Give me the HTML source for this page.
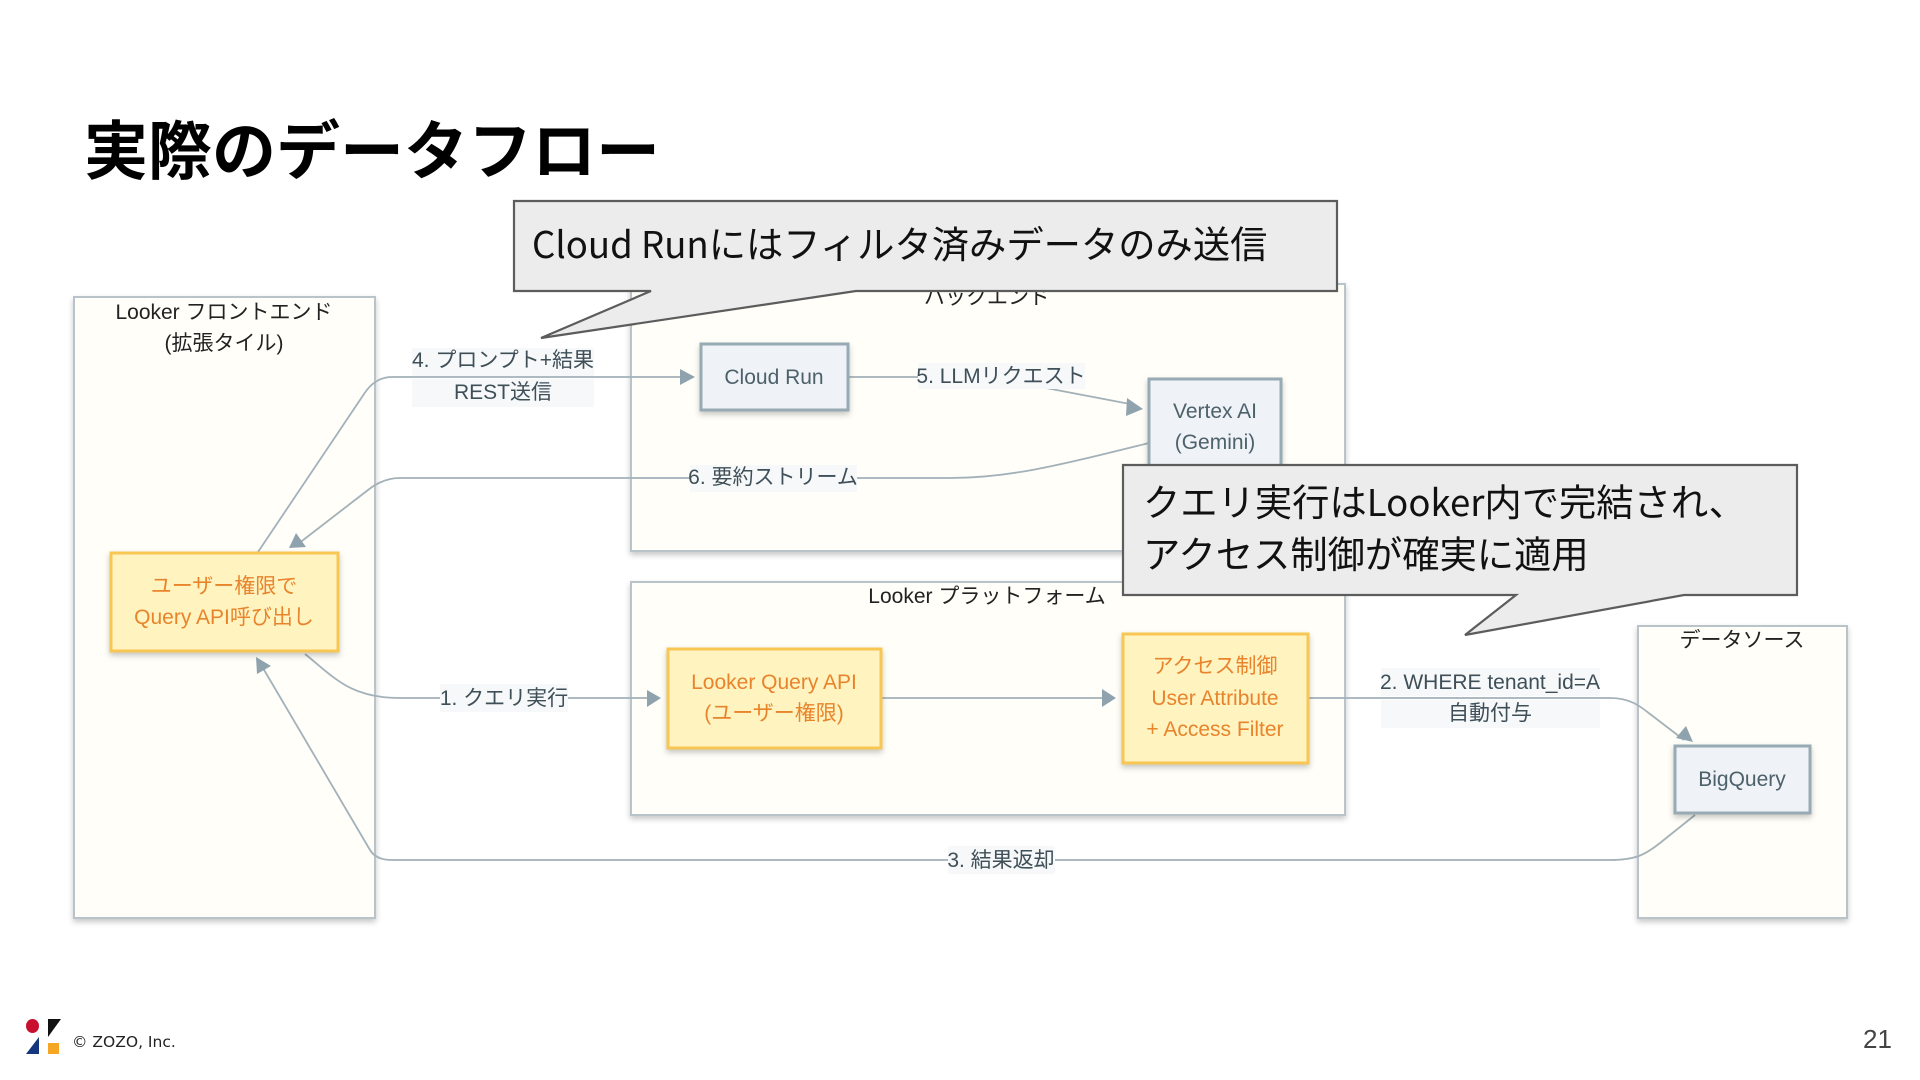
<!DOCTYPE html>
<html lang="ja">
<head>
<meta charset="utf-8">
<title>実際のデータフロー</title>
<style>
html,body{margin:0;padding:0;background:#fff;width:1920px;height:1080px;overflow:hidden}
svg{display:block;filter:blur(.35px)}
text{font-family:"Liberation Sans","Noto Sans CJK JP",sans-serif}
.frame{fill:#fffef8;stroke:#b8c4ca;stroke-width:2}
.ftitle{font-size:21px;fill:#222;text-anchor:middle}
.edge{fill:none;stroke:#a3b1b9;stroke-width:1.8}
.arrow{fill:#8fa3af}
.lbg{fill:#f6f8f9}
.ltxt{font-size:21px;fill:#3f4f58;text-anchor:middle}
.yn{fill:#fff3c0;stroke:#f8c653;stroke-width:3}
.gn{fill:#eff2f6;stroke:#98abb5;stroke-width:3}
.yt{font-size:21px;fill:#e8842c;text-anchor:middle}
.gt{font-size:21px;fill:#4d616b;text-anchor:middle}
.call{fill:#ececec;stroke:#5c5c5c;stroke-width:2.2;stroke-linejoin:miter}
.ct{font-family:"Noto Sans CJK JP",sans-serif;font-size:37.3px;fill:#111}
</style>
</head>
<body>
<svg width="1920" height="1080" viewBox="0 0 1920 1080" xmlns="http://www.w3.org/2000/svg">
<defs>
<filter id="s" x="-10%" y="-10%" width="120%" height="125%"><feDropShadow dx="0" dy="3" stdDeviation="3" flood-color="#000" flood-opacity=".22"/></filter>
</defs>

<text x="84" y="174" style="font-family:'Noto Sans CJK JP',sans-serif;font-weight:700;font-size:64px" fill="#000">実際のデータフロー</text>

<rect class="frame" filter="url(#s)" x="74" y="297" width="301" height="621"/>
<rect class="frame" filter="url(#s)" x="631" y="284" width="714" height="267"/>
<rect class="frame" filter="url(#s)" x="631" y="582" width="714" height="233"/>
<rect class="frame" filter="url(#s)" x="1638" y="626" width="209" height="292"/>

<text class="ftitle" x="224" y="319">Looker フロントエンド</text>
<text class="ftitle" x="224" y="350">(拡張タイル)</text>
<text class="ftitle" x="987" y="304">バックエンド</text>
<text class="ftitle" x="987" y="603">Looker プラットフォーム</text>
<text class="ftitle" x="1742" y="647">データソース</text>

<path class="edge" d="M258 552L364 394Q375 377 392 377L682 377"/>
<path class="edge" d="M848 377L918 377"/>
<path class="edge" d="M1046 388L1130 404"/>
<path class="edge" d="M1149 443C1060 465 1010 478 950 478L400 478Q383 478 368 490L298 544"/>
<path class="edge" d="M305 654C335 678 350 698 400 698L650 698"/>
<path class="edge" d="M882 698L1104 698"/>
<path class="edge" d="M1308 698L1610 698C1630 698 1640 706 1650 714L1684 740"/>
<path class="edge" d="M1695 815L1660 843C1645 855 1635 860 1610 860L392 860Q376 860 370 850L260 663"/>

<polygon class="arrow" points="680,369 695,377 680,385"/>
<polygon class="arrow" points="1127,398 1143,409 1126,416"/>
<polygon class="arrow" points="296,533 289,548 306,547"/>
<polygon class="arrow" points="647,690 661,698 647,707"/>
<polygon class="arrow" points="1102,689 1116,698 1102,707"/>
<polygon class="arrow" points="1686,726 1693,742 1676,738"/>
<polygon class="arrow" points="256,657 271,666 257,674"/>

<rect class="lbg" x="412" y="348" width="182" height="28"/>
<rect class="lbg" x="412" y="379" width="182" height="28"/>
<rect class="lbg" x="918" y="363" width="167" height="26"/>
<rect class="lbg" x="690" y="465" width="167" height="27"/>
<rect class="lbg" x="440" y="684" width="128" height="28"/>
<rect class="lbg" x="1381" y="668" width="219" height="28"/>
<rect class="lbg" x="1381" y="700" width="219" height="28"/>
<rect class="lbg" x="948" y="846" width="107" height="28"/>

<text class="ltxt" x="503" y="367">4. プロンプト+結果</text>
<text class="ltxt" x="503" y="399">REST送信</text>
<text class="ltxt" x="1001" y="383">5. LLMリクエスト</text>
<text class="ltxt" x="773" y="484">6. 要約ストリーム</text>
<text class="ltxt" x="504" y="705">1. クエリ実行</text>
<text class="ltxt" x="1490" y="689">2. WHERE tenant_id=A</text>
<text class="ltxt" x="1490" y="720">自動付与</text>
<text class="ltxt" x="1001" y="867">3. 結果返却</text>

<rect class="yn" filter="url(#s)" x="111" y="553" width="227" height="98"/>
<text class="yt" x="224" y="593">ユーザー権限で</text>
<text class="yt" x="224" y="624">Query API呼び出し</text>

<rect class="gn" filter="url(#s)" x="701" y="344" width="147" height="66"/>
<text class="gt" x="774" y="384">Cloud Run</text>

<rect class="gn" filter="url(#s)" x="1149" y="379" width="132" height="94"/>
<text class="gt" x="1215" y="418">Vertex AI</text>
<text class="gt" x="1215" y="449">(Gemini)</text>

<rect class="yn" filter="url(#s)" x="668" y="649" width="213" height="99"/>
<text class="yt" x="774" y="689">Looker Query API</text>
<text class="yt" x="774" y="720">(ユーザー権限)</text>

<rect class="yn" filter="url(#s)" x="1123" y="634" width="185" height="129"/>
<text class="yt" x="1215" y="673">アクセス制御</text>
<text class="yt" x="1215" y="705">User Attribute</text>
<text class="yt" x="1215" y="736">+ Access Filter</text>

<rect class="gn" filter="url(#s)" x="1675" y="746" width="135" height="67"/>
<text class="gt" x="1742" y="786">BigQuery</text>

<path class="call" d="M514 201H1337V291H856L541 338L651 291H514Z"/>
<text class="ct" x="532" y="258"><tspan font-size="36.6">Cloud Run</tspan>にはフィルタ済みデータのみ送信</text>

<path class="call" d="M1123 465H1797V595H1684L1465 635L1516 595H1123Z"/>
<text class="ct" x="1143" y="516">クエリ実行は<tspan font-size="36.6">Looker</tspan>内で完結され、</text>
<text class="ct" x="1143" y="568">アクセス制御が確実に適用</text>

<ellipse cx="32.5" cy="1026" rx="6.5" ry="7" fill="#c8102e"/>
<polygon points="48,1019 61,1019 48,1037" fill="#111"/>
<polygon points="39,1037 39,1054 26,1054" fill="#15377e"/>
<rect x="48" y="1043" width="11" height="11" fill="#f5a623"/>
<text x="72" y="1047" style="font-family:'DejaVu Sans',sans-serif;font-size:15.5px" fill="#222">© ZOZO, Inc.</text>
<text x="1863" y="1048" style="font-size:26px" fill="#444">21</text>
</svg>
</body>
</html>
